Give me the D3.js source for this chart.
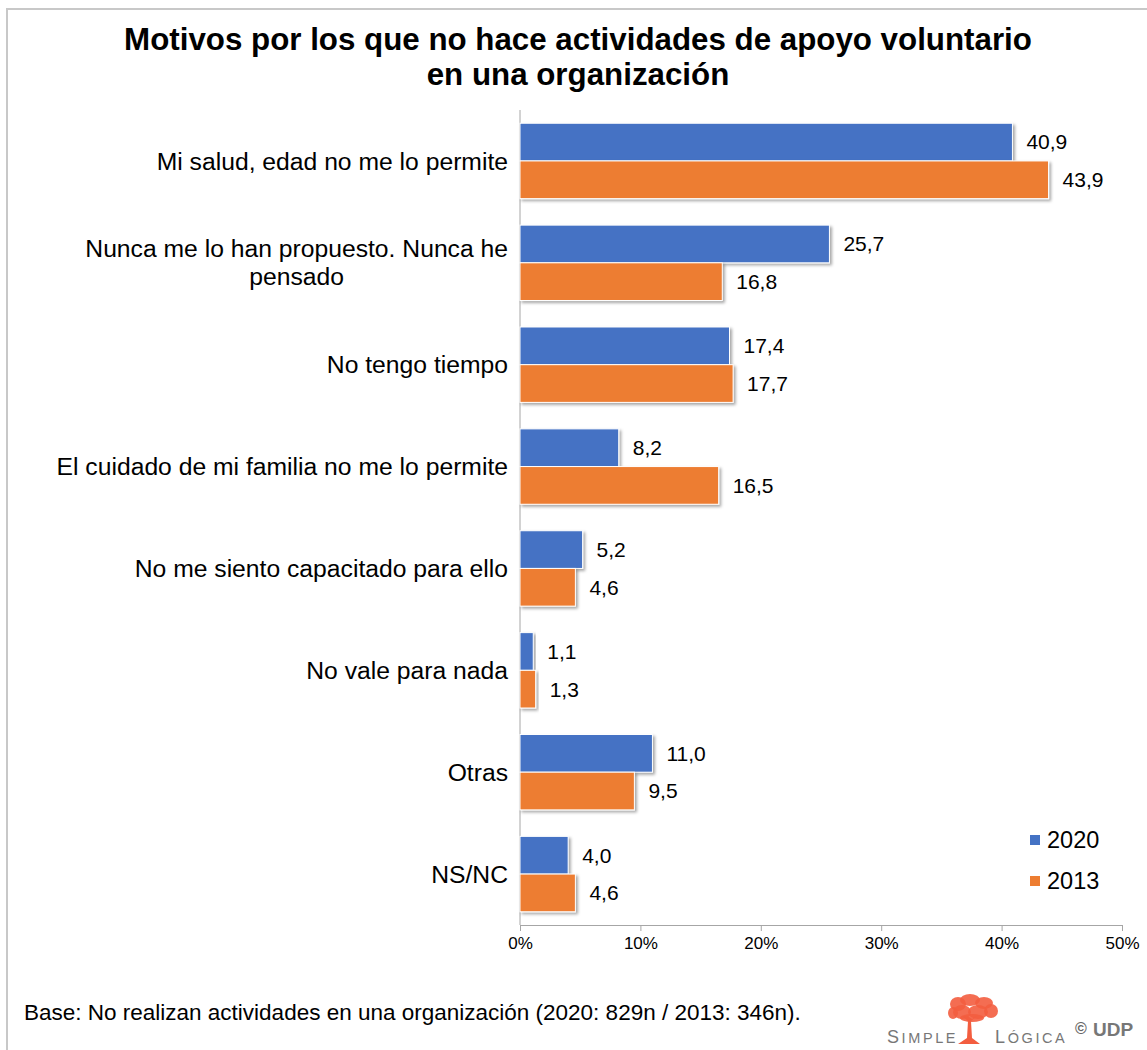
<!DOCTYPE html>
<html>
<head>
<meta charset="utf-8">
<script src="https://cdn.jsdelivr.net/npm/d3@7"></script>
<style>
  body { margin: 0; background: #fff; }
  svg { display: block; font-family: "Liberation Sans", Arial, sans-serif; }
</style>
</head>
<body>
<svg id="chart" width="1147" height="1050"></svg>
<script>
var categories = [
  "Mi salud, edad no me lo permite",
  "Nunca me lo han propuesto. Nunca he|pensado",
  "No tengo tiempo",
  "El cuidado de mi familia no me lo permite",
  "No me siento capacitado para ello",
  "No vale para nada",
  "Otras",
  "NS/NC"
];
var values2020 = [40.9, 25.7, 17.4, 8.2, 5.2, 1.1, 11.0, 4.0];
var values2013 = [43.9, 16.8, 17.7, 16.5, 4.6, 1.3, 9.5, 4.6];
var seriesNames = ["2020", "2013"];
var xTicks = [0, 10, 20, 30, 40, 50];

var colors = {"2020": "#4472c4", "2013": "#ed7d31"};

var svg = d3.select("#chart");

// outer frame (only top and left edges are visible)
svg.append("rect")
   .attr("x", 7).attr("y", 9)
   .attr("width", 1200).attr("height", 1100)
   .attr("fill", "none")
   .attr("stroke", "#c8c8c8")
   .attr("stroke-width", 2);

// shadow for bars
var defs = svg.append("defs");
var f = defs.append("filter").attr("id", "shadow")
  .attr("x", "-10%").attr("y", "-20%").attr("width", "130%").attr("height", "160%");
f.append("feDropShadow")
  .attr("dx", 2).attr("dy", 2).attr("stdDeviation", 1.5)
  .attr("flood-color", "#000").attr("flood-opacity", 0.35);

// title
var title = svg.append("text")
   .attr("text-anchor", "middle")
   .style("font-size", "31.3px").style("font-weight", "bold").attr("fill", "#000");
title.append("tspan").attr("x", 578).attr("y", 50).text("Motivos por los que no hace actividades de apoyo voluntario");
title.append("tspan").attr("x", 578).attr("y", 85).text("en una organización");

var mLeft = 520, mRight = 1122, mTop = 110, mBottom = 925;

var x = d3.scaleLinear().domain([0, 50]).range([mLeft, mRight]);
var y = d3.scaleBand().domain(categories).range([mTop, mBottom])
  .paddingInner(0.26).paddingOuter(0.13);
var ySub = d3.scaleBand().domain(seriesNames).range([0, y.bandwidth()]);

var data = categories.map(function(c, i){
  return {cat: c, values: [
    {name: "2020", value: values2020[i]},
    {name: "2013", value: values2013[i]}
  ]};
});

// x axis
var xAxis = svg.append("g")
  .attr("transform", "translate(0," + mBottom + ")")
  .call(d3.axisBottom(x).tickValues(xTicks).tickSize(6).tickFormat(function(d){ return d + "%"; }));
xAxis.select(".domain").attr("stroke", "#a6a6a6");
xAxis.selectAll(".tick line").attr("stroke", "#a6a6a6");
xAxis.selectAll(".tick text")
  .attr("y", 12)
  .style("font-size", "17px")
  .style("font-family", "Liberation Sans, Arial, sans-serif")
  .attr("fill", "#000");

// y axis line
svg.append("line")
  .attr("x1", mLeft).attr("x2", mLeft)
  .attr("y1", mTop).attr("y2", mBottom)
  .attr("stroke", "#a6a6a6");

// bars
var grp = svg.selectAll(".grp").data(data).enter().append("g")
  .attr("class", "grp")
  .attr("transform", function(d){ return "translate(0," + y(d.cat) + ")"; });

grp.selectAll("rect").data(function(d){ return d.values; }).enter().append("rect")
  .attr("x", x(0))
  .attr("y", function(d){ return ySub(d.name); })
  .attr("width", function(d){ return x(d.value) - x(0); })
  .attr("height", ySub.bandwidth())
  .attr("fill", function(d){ return colors[d.name]; })
  .attr("stroke", "#fff")
  .attr("stroke-width", 1)
  .attr("filter", "url(#shadow)");

grp.selectAll(".val").data(function(d){ return d.values; }).enter().append("text")
  .attr("class", "val")
  .attr("x", function(d){ return x(d.value) + 14; })
  .attr("y", function(d){ return ySub(d.name) + ySub.bandwidth() / 2; })
  .attr("dy", "0.35em")
  .style("font-size", "21px")
  .attr("fill", "#000")
  .text(function(d){ return d.value.toFixed(1).replace(".", ","); });

// category labels (multi-line centred against each other, block right-aligned)
grp.each(function(d){
  var lines = d.cat.split("|");
  var g = d3.select(this);
  var t = g.append("text")
    .style("font-size", "24.7px")
    .attr("fill", "#000");
  var lh = 28;
  var y0 = y.bandwidth() / 2 - (lines.length - 1) * lh / 2;
  lines.forEach(function(l, i){
    t.append("tspan").attr("y", y0 + i * lh).attr("dy", "0.35em").text(l);
  });
  var maxW = 0;
  t.selectAll("tspan").each(function(){ maxW = Math.max(maxW, this.getComputedTextLength()); });
  t.attr("text-anchor", "middle");
  t.selectAll("tspan").attr("x", 508 - maxW / 2);
});

// legend
var legend = svg.append("g");
seriesNames.forEach(function(s, i){
  var ly = 840 + i * 41;
  legend.append("rect")
    .attr("x", 1030).attr("y", ly - 5)
    .attr("width", 10).attr("height", 10)
    .attr("fill", colors[s]);
  legend.append("text")
    .attr("x", 1047).attr("y", ly)
    .attr("dy", "0.35em")
    .style("font-size", "23.5px")
    .attr("fill", "#000")
    .text(s);
});

// footer
svg.append("text")
  .attr("x", 24).attr("y", 1020)
  .style("font-size", "22.5px")
  .attr("fill", "#000")
  .text("Base: No realizan actividades en una organización (2020: 829n / 2013: 346n).");

// logo
var logo = svg.append("g");
var treeCol = "#f35d3f";
var blobs = [[958,1004,8,7],[970,1000,10,6],[984,1003,9,6],[991,1011,7,7],[953,1013,5,6],[962,1012,9,7],[978,1012,10,7],[972,1018,12,4]];
blobs.forEach(function(b){
  logo.append("ellipse").attr("cx", b[0]).attr("cy", b[1]).attr("rx", b[2]).attr("ry", b[3])
    .attr("fill", treeCol).attr("opacity", 0.9);
});
logo.append("path")
  .attr("d", "M962,1016 L968,1021 L967,1038 L958,1044 L980,1044 L972,1038 L971,1021 L977,1016 L972,1019 L969,1017 Z")
  .attr("fill", treeCol);
var s1 = logo.append("text").attr("x", 887).attr("y", 1043)
  .style("letter-spacing", "2.6px").attr("fill", "#777");
s1.append("tspan").style("font-size", "18px").text("S");
s1.append("tspan").style("font-size", "14.5px").text("IMPLE");
var s2 = logo.append("text").attr("x", 995).attr("y", 1043)
  .style("letter-spacing", "2.6px").attr("fill", "#777");
s2.append("tspan").style("font-size", "18px").text("L");
s2.append("tspan").style("font-size", "14.5px").text("ÓGICA");
logo.append("text").attr("x", 1075).attr("y", 1034)
  .style("font-size", "16px").style("font-weight", "bold").attr("fill", "#666")
  .text("©");
logo.append("text").attr("x", 1093).attr("y", 1036)
  .style("font-size", "19px").style("font-weight", "bold").attr("fill", "#777")
  .text("UDP");
</script>
</body>
</html>
